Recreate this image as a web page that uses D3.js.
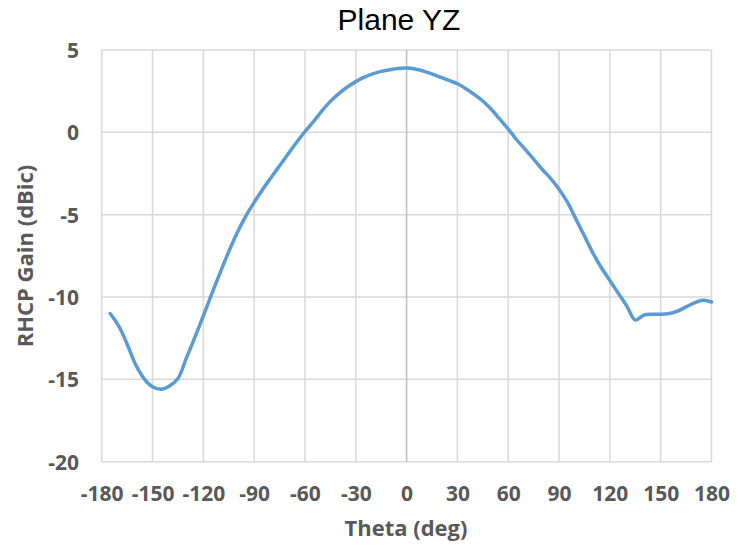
<!DOCTYPE html>
<html>
<head>
<meta charset="utf-8">
<script src="https://cdn.jsdelivr.net/npm/d3@7"></script>
<style>
  html, body { margin: 0; padding: 0; background: #fff; }
  svg { display: block; }
</style>
</head>
<body>
<svg id="chart" width="746" height="548"></svg>
<script>
const chartTitle = "Plane YZ";
const xTitle = "Theta (deg)";
const yTitle = "RHCP Gain (dBic)";
const xTicks = [-180, -150, -120, -90, -60, -30, 0, 30, 60, 90, 120, 150, 180];
const yTicks = [5, 0, -5, -10, -15, -20];

const theta = [
  -175, -170, -165, -160, -155, -150, -145, -140, -135, -130, -125, -120,
  -115, -110, -105, -100, -95, -90, -85, -80, -75, -70, -65, -60,
  -55, -50, -45, -40, -35, -30, -25, -20, -15, -10, -5, 0,
  5, 10, 15, 20, 25, 30, 35, 40, 45, 50, 55, 60,
  65, 70, 75, 80, 85, 90, 95, 100, 105, 110, 115, 120,
  125, 130, 135, 140, 145, 150, 155, 160, 165, 170, 175, 180
];
const gain = [
  -11.0, -11.75, -12.85, -14.1, -14.95, -15.45, -15.6, -15.4, -14.95, -13.7, -12.45, -11.15,
  -9.8, -8.5, -7.25, -6.1, -5.1, -4.25, -3.47, -2.74, -2.03, -1.32, -0.62, 0.05,
  0.65, 1.3, 1.88, 2.35, 2.75, 3.08, 3.35, 3.55, 3.7, 3.8, 3.88, 3.9,
  3.85, 3.72, 3.55, 3.35, 3.15, 2.95, 2.65, 2.3, 1.9, 1.4, 0.8, 0.2,
  -0.45, -1.03, -1.63, -2.24, -2.8, -3.45, -4.25, -5.27, -6.3, -7.33, -8.22, -9.0,
  -9.78, -10.55, -11.4, -11.1, -11.05, -11.05, -11.0, -10.85, -10.6, -10.35, -10.2, -10.3
];

const svg = d3.select("#chart");
const textColor = "#595959";
const gridColor = "#d9d9d9";
const font = "'Open Sans', sans-serif";
const fmt = d => String(d);

const x = d3.scaleLinear().domain([-180, 180]).range([101.7, 711.5]);
const y = d3.scaleLinear().domain([-20, 5]).range([461.7, 50]);

// Horizontal gridlines
svg.append("g").selectAll("line").data(yTicks).join("line")
  .attr("x1", x(-180)).attr("x2", x(180))
  .attr("y1", d => y(d)).attr("y2", d => y(d))
  .attr("stroke", gridColor).attr("stroke-width", 1.5);

// Vertical gridlines
svg.append("g").selectAll("line").data(xTicks).join("line")
  .attr("x1", d => x(d)).attr("x2", d => x(d))
  .attr("y1", y(5)).attr("y2", y(-20))
  .attr("stroke", d => d === 0 ? "#bfbfbf" : gridColor)
  .attr("stroke-width", 1.5);

// X axis labels
const xAxis = d3.axisBottom(x).tickValues(xTicks).tickSize(0).tickPadding(0).tickFormat(fmt);
const gx = svg.append("g").attr("transform", `translate(0,${y(-20)})`).call(xAxis);
gx.select(".domain").remove();
gx.selectAll("text")
  .attr("dy", null).attr("y", 39)
  .attr("fill", textColor)
  .style("font-family", font).style("font-weight", "bold").style("font-size", "21px");

// Y axis labels
const yAxis = d3.axisLeft(y).tickValues(yTicks).tickSize(0).tickPadding(0).tickFormat(fmt);
const gy = svg.append("g").attr("transform", `translate(79,0)`).call(yAxis);
gy.select(".domain").remove();
gy.selectAll("text")
  .attr("dy", "0.35em").attr("x", 0)
  .attr("fill", textColor)
  .style("font-family", font).style("font-weight", "bold").style("font-size", "21px");

// Line
const pts = theta.map((t, i) => [t, gain[i]]);
const line = d3.line().x(d => x(d[0])).y(d => y(d[1])).curve(d3.curveCatmullRom.alpha(0.5));
svg.append("path").datum(pts)
  .attr("d", line)
  .attr("fill", "none")
  .attr("stroke", "#5b9bd5")
  .attr("stroke-width", 3.5)
  .attr("stroke-linejoin", "round")
  .attr("stroke-linecap", "round");

// Title
svg.append("text").attr("x", 399).attr("y", 30)
  .attr("text-anchor", "middle")
  .attr("fill", "#000")
  .style("font-family", "'Liberation Sans', Arial, sans-serif")
  .style("font-size", "30px")
  .text(chartTitle);

// X title
svg.append("text").attr("x", 406).attr("y", 536)
  .attr("text-anchor", "middle")
  .attr("fill", textColor)
  .style("font-family", font).style("font-weight", "bold").style("font-size", "22px")
  .text(xTitle);

// Y title
svg.append("text")
  .attr("transform", "translate(33,256) rotate(-90)")
  .attr("text-anchor", "middle")
  .attr("fill", textColor)
  .style("font-family", font).style("font-weight", "bold").style("font-size", "22px")
  .text(yTitle);
</script>
</body>
</html>
